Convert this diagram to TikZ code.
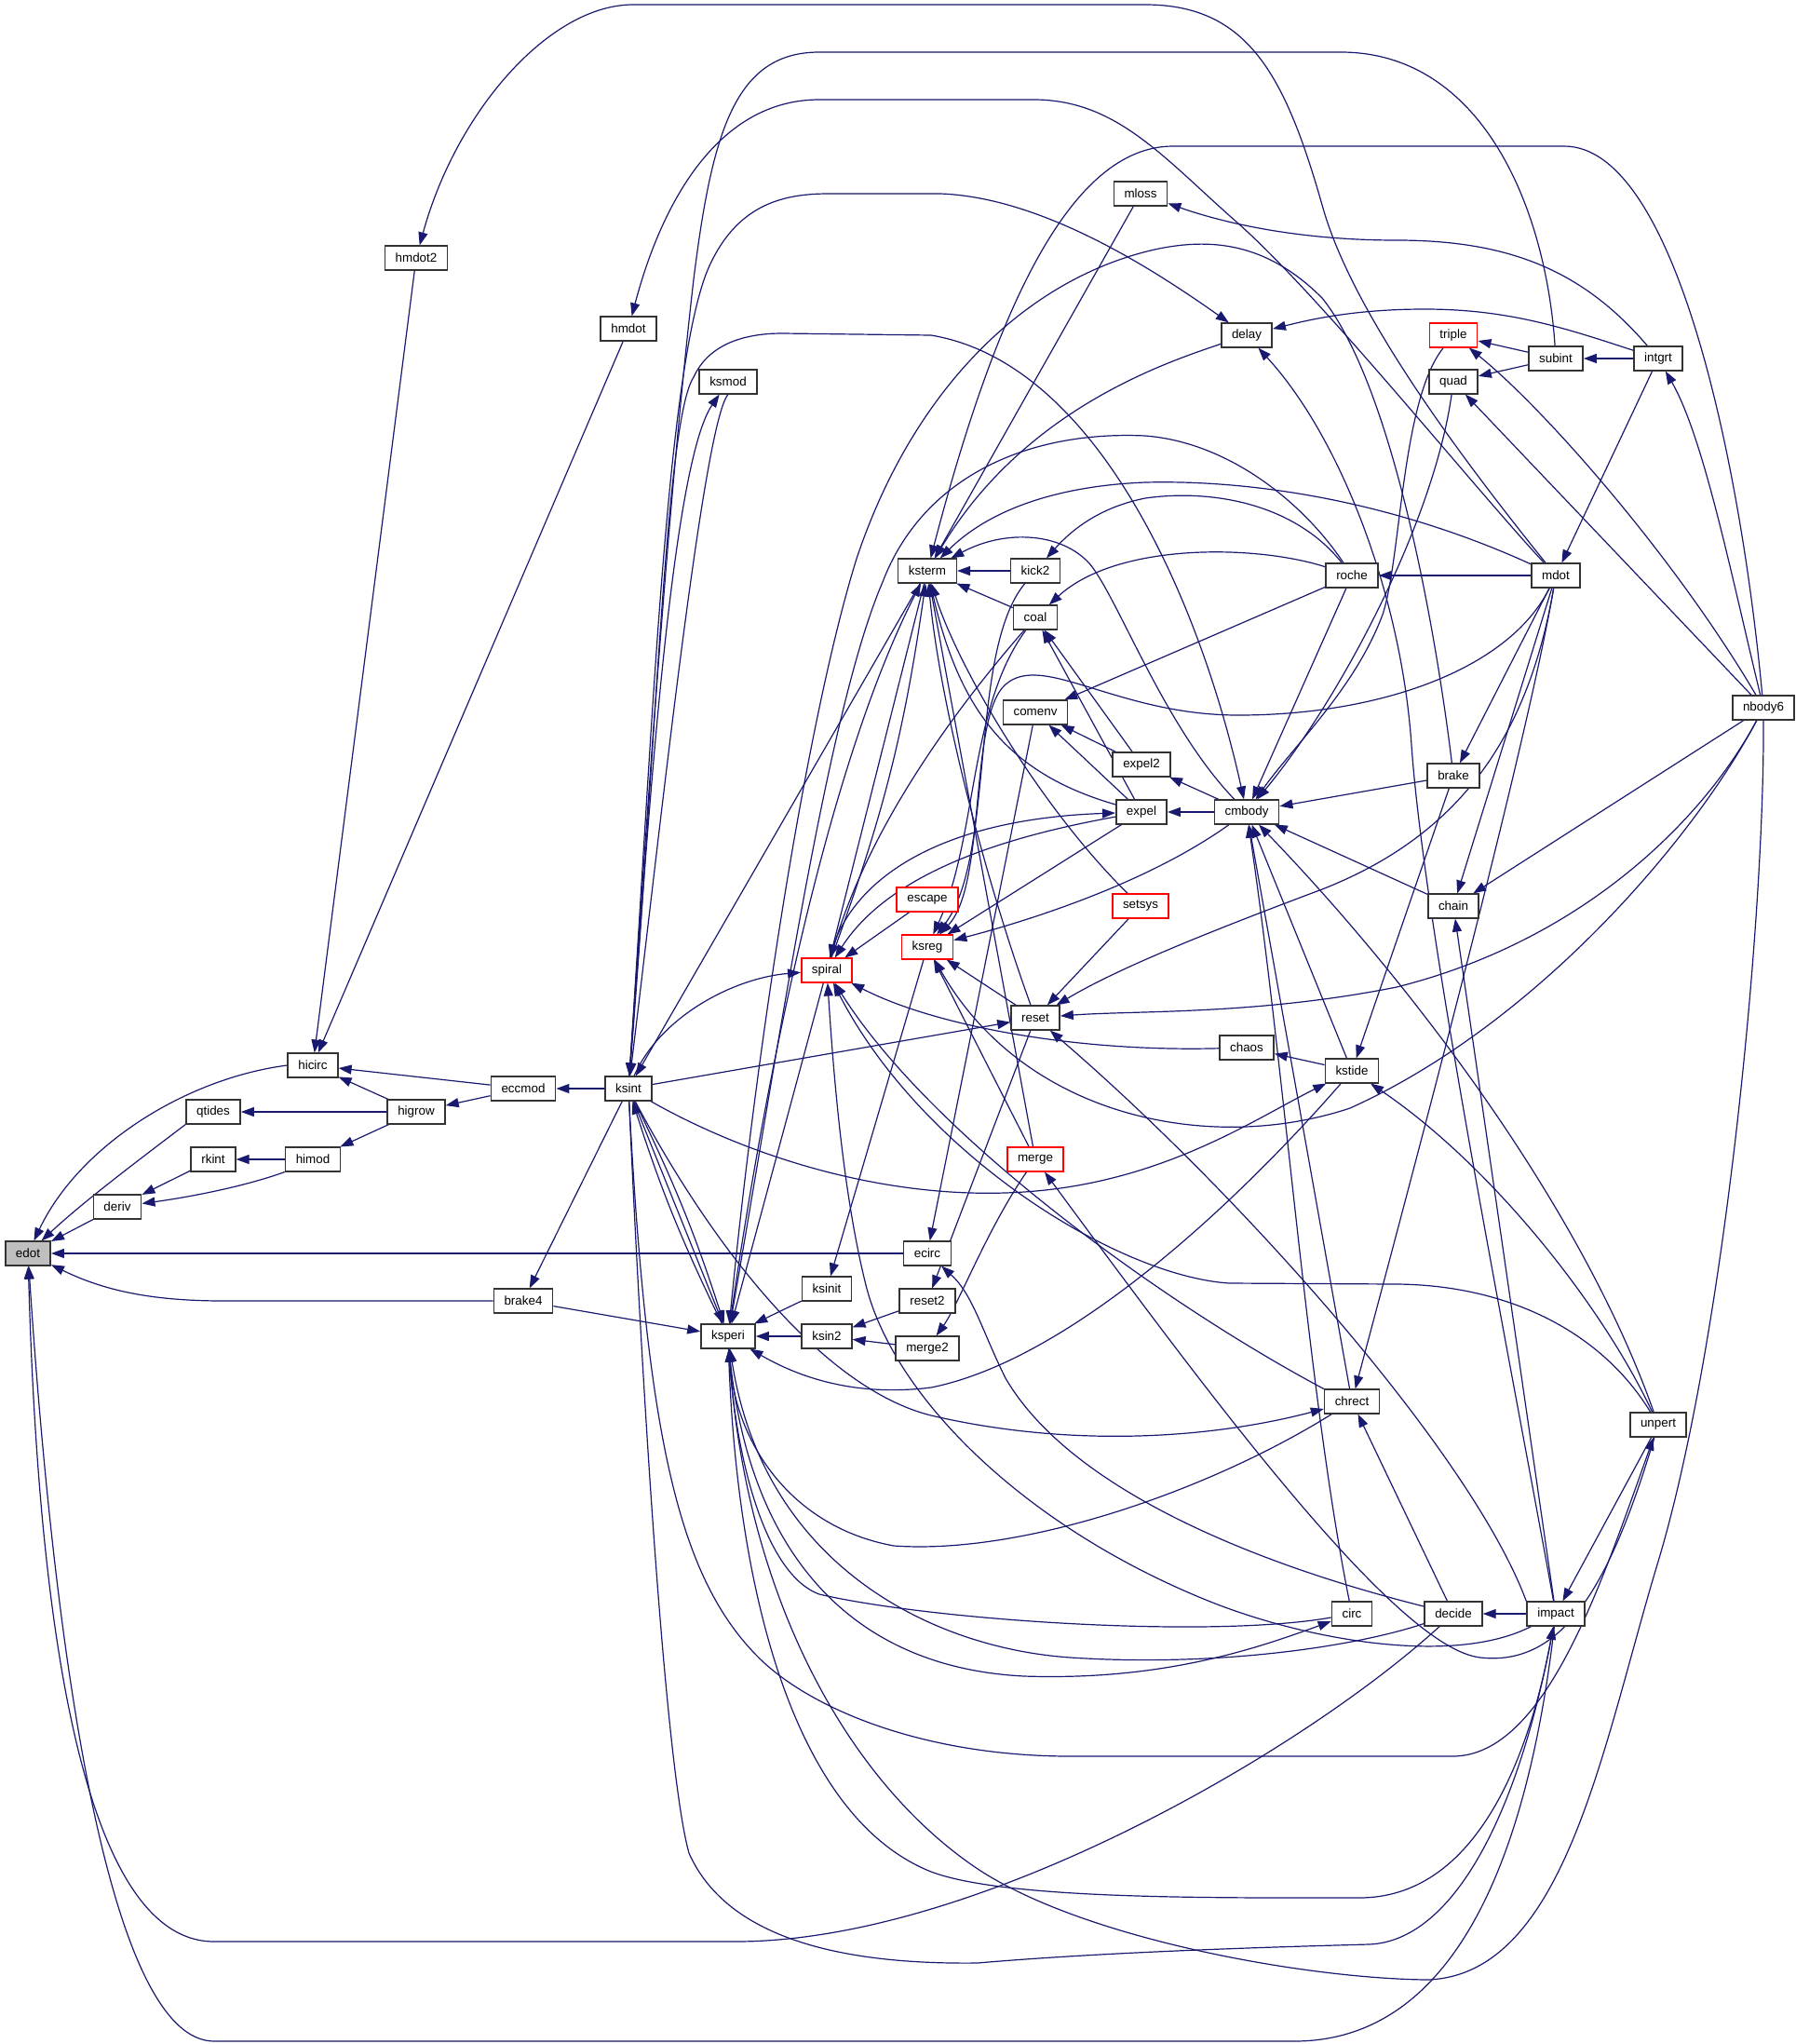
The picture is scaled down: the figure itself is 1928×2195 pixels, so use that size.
\documentclass[tikz,border=0pt]{standalone}
\usepackage{fontspec}
\setmainfont{Liberation Sans}
\usetikzlibrary{arrows.meta,backgrounds}
\definecolor{callBlue}{RGB}{25,25,112}
\definecolor{rootGray}{RGB}{191,191,191}
\begin{document}
\begin{tikzpicture}
[x=0.5pt,y=-0.5pt,
  callArrow/.style={-{Triangle[length=7pt,width=5pt]},draw=callBlue,line width=0.6pt},%
  funcNode/.style={shape=rectangle,draw=black!80,line width=0.75pt,fill=white,
    inner xsep=5.6pt,inner ysep=0pt,minimum height=12.8pt,font=\fontsize{6.7}{8}\selectfont},%
  rootNode/.style={funcNode,fill=rootGray},%
  truncNode/.style={funcNode,draw=red}]
\useasboundingbox (0,0) rectangle (1928,2195);
%% nodes or vertices
\foreach \nodename/\x/\y/\kind in {
  edot/30/1346/rootNode, deriv/126/1296/funcNode, rkint/229/1245/funcNode,
  himod/336/1245/funcNode, qtides/229/1194/funcNode, higrow/447/1194/funcNode,
  hicirc/336/1144/funcNode, eccmod/562/1169/funcNode, ksint/675/1169/funcNode,
  brake4/562/1397/funcNode, hmdot2/447/277/funcNode, hmdot/675/353/funcNode,
  ksmod/782/410/funcNode, ksperi/782/1435/funcNode, ksinit/888/1384/funcNode,
  ksin2/888/1435/funcNode, reset2/996/1397/funcNode, merge2/996/1448/funcNode,
  ecirc/996/1346/funcNode, merge/1112/1245/truncNode, reset/1112/1093/funcNode,
  ksreg/996/1017/truncNode, spiral/888/1042/truncNode, escape/996/966/truncNode,
  setsys/1225/973/truncNode, ksterm/996/613/funcNode, kick2/1112/613/funcNode,
  coal/1112/663/funcNode, comenv/1112/765/funcNode, expel2/1226/821/funcNode,
  expel/1226/872/funcNode, cmbody/1339/872/funcNode, mloss/1225/208/funcNode,
  delay/1339/360/funcNode, triple/1561/360/truncNode, quad/1561/410/funcNode,
  subint/1671/385/funcNode, intgrt/1781/385/funcNode, roche/1452/618/funcNode,
  mdot/1671/618/funcNode, brake/1561/833/funcNode, chain/1561/973/funcNode,
  chaos/1339/1125/funcNode, kstide/1452/1150/funcNode, nbody6/1894/760/funcNode,
  chrect/1452/1505/funcNode, unpert/1781/1530/funcNode, circ/1452/1733/funcNode,
  decide/1561/1733/funcNode, impact/1671/1733/funcNode}
{
  \node (\nodename) at (\x,\y) [\kind] {\nodename};
}
\begin{scope}[on background layer]
\fill[white] (0,0) rectangle (1928,2195);
%% edges or lines
\path
\foreach \startnode/\endnode in {
  deriv/edot, rkint/deriv, himod/rkint, higrow/qtides, higrow/hicirc,
  higrow/himod, eccmod/hicirc, eccmod/higrow, ksint/eccmod, ecirc/edot,
  ksint/brake4, brake4/ksperi, hmdot2/hicirc, hmdot/hicirc, ksinit/ksperi,
  ksin2/ksperi, reset2/ksin2, merge2/ksin2, kick2/ksterm, coal/ksterm,
  expel2/comenv, expel/comenv, expel2/coal, expel/coal, cmbody/expel,
  cmbody/expel2, brake/cmbody, chain/cmbody, kstide/cmbody, kstide/chaos,
  intgrt/subint, subint/triple, subint/quad, intgrt/mdot, mdot/roche,
  nbody6/quad, nbody6/chain, mdot/brake, mdot/chain, brake/kstide,
  impact/decide, decide/chrect, unpert/impact, impact/chain, mloss/ksterm,
  roche/cmbody, roche/comenv, chrect/cmbody, ksint/reset, ksint/ksperi,
  ksterm/ksint, spiral/ksperi, escape/spiral, expel/ksreg, reset/ksreg,
  merge/ksreg, merge/ksterm, setsys/reset, reset/reset2, ksreg/ksinit,
  comenv/ecirc, ksterm/spiral}
{
  (\startnode) edge[callArrow] (\endnode)
}
%% multiple directed edges
(ksint) edge[callArrow,bend left=4] (ksperi)
(ksperi) edge[callArrow,bend left=4] (ksint)
(spiral) edge[callArrow,bend right=6] (ksterm);
%% left cluster
\draw[callArrow] (hicirc.west) .. controls (200,1158) and (85,1230) .. (edot);
\draw[callArrow] (qtides.south west) .. controls (150,1245) and (90,1290) .. (edot);
\draw[callArrow] (himod.south west) .. controls (260,1275) and (200,1286) .. (deriv);
\draw[callArrow] (brake4.west) -- (240,1397) .. controls (160,1397) and (110,1385) .. (edot);
%% round the bottom
\draw[callArrow] (decide) .. controls (1400,1880) and (1050,2085) .. (790,2085) -- (230,2085)
  .. controls (80,2085) and (40,1700) .. (edot);
\draw[callArrow] (impact) .. controls (1640,2000) and (1560,2192) .. (1390,2192) -- (230,2192)
  .. controls (120,2192) and (60,1800) .. (edot);
%% round the top
\draw[callArrow] (mdot) .. controls (1560,480) and (1450,330) .. (1420,220)
  .. controls (1380,80) and (1340,5) .. (1230,5) -- (680,5) .. controls (590,5) and (490,120) .. (hmdot2);
\draw[callArrow] (mdot) .. controls (1580,520) and (1420,320) .. (1330,240)
  .. controls (1250,170) and (1200,107) .. (1110,107) -- (880,107) .. controls (770,107) and (710,220) .. (hmdot);
\draw[callArrow] (subint) .. controls (1660,220) and (1590,56) .. (1440,56) -- (880,56)
  .. controls (790,56) and (765,140) .. (745,300) .. controls (715,560) and (690,950) .. (ksint);
\draw[callArrow] (nbody6) .. controls (1870,500) and (1800,157) .. (1680,157) -- (1260,157)
  .. controls (1150,157) and (1070,330) .. (ksterm);
\draw[callArrow] (intgrt) .. controls (1700,290) and (1620,258) .. (1500,258)
  .. controls (1390,258) and (1310,238) .. (mloss);
\draw[callArrow] (intgrt) .. controls (1680,352) and (1620,332) .. (1530,332)
  .. controls (1450,332) and (1400,345) .. (delay);
\draw[callArrow] (nbody6) .. controls (1860,620) and (1830,470) .. (intgrt);
\draw[callArrow] (nbody6) .. controls (1800,600) and (1660,440) .. (triple);
\draw[callArrow] (ksint) .. controls (700,800) and (715,400) .. (760,290)
  .. controls (790,220) and (840,208) .. (890,208) -- (1010,208) .. controls (1120,212) and (1240,290) .. (delay);
\draw[callArrow] (ksint) .. controls (705,800) and (715,450) .. (745,405)
  .. controls (760,372) and (795,358) .. (840,358) -- (1000,360) .. controls (1180,390) and (1290,650) .. (cmbody);
\draw[callArrow] (ksint) .. controls (695,900) and (720,500) .. (ksmod);
\draw[callArrow] (ksmod.south) .. controls (755,455) and (708,900) .. (ksint);
\draw[callArrow] (impact) .. controls (1620,1450) and (1530,1000) .. (1516,800)
  .. controls (1505,640) and (1440,470) .. (delay);
\draw[callArrow] (brake) .. controls (1545,700) and (1500,420) .. (1420,320)
  .. controls (1360,260) and (1300,255) .. (1240,268) .. controls (1100,300) and (980,420) .. (920,600)
  .. controls (870,760) and (815,1100) .. (ksperi);
\draw[callArrow] (roche) .. controls (1400,540) and (1320,475) .. (1230,468)
  .. controls (1100,462) and (990,515) .. (948,625) .. controls (890,760) and (840,1100) .. (ksperi);
%% around ksterm
\draw[callArrow] (roche) .. controls (1390,540) and (1300,525) .. (1230,535)
  .. controls (1180,545) and (1150,570) .. (kick2);
\draw[callArrow] (roche) .. controls (1350,585) and (1200,582) .. (coal);
\draw[callArrow] (mdot) .. controls (1500,540) and (1350,515) .. (1230,518)
  .. controls (1130,522) and (1060,550) .. (ksterm);
\draw[callArrow] (delay) .. controls (1250,390) and (1100,440) .. (ksterm);
\draw[callArrow] (cmbody) .. controls (1250,780) and (1200,640) .. (1170,605)
  .. controls (1140,572) and (1080,568) .. (ksterm);
\draw[callArrow] (triple) .. controls (1505,430) and (1505,600) .. (1485,660)
  .. controls (1455,740) and (1390,800) .. (cmbody);
\draw[callArrow] (quad) .. controls (1540,560) and (1440,750) .. (cmbody);
\draw[callArrow] (ksperi) .. controls (830,1100) and (900,800) .. (ksterm);
\draw[callArrow] (reset) .. controls (1060,950) and (1010,760) .. (ksterm);
\draw[callArrow] (setsys) .. controls (1120,870) and (1030,720) .. (ksterm);
\draw[callArrow] (expel) .. controls (1080,830) and (1030,760) .. (ksterm);
%% middle right
\draw[callArrow] (nbody6) .. controls (1830,880) and (1700,1010) .. (1500,1060)
  .. controls (1350,1090) and (1220,1085) .. (reset);
\draw[callArrow] (nbody6) .. controls (1820,900) and (1650,1100) .. (1450,1190)
  .. controls (1300,1240) and (1100,1200) .. (ksreg);
\draw[callArrow] (ksint) .. controls (800,1240) and (950,1290) .. (1100,1280)
  .. controls (1250,1270) and (1350,1200) .. (kstide);
\draw[callArrow] (unpert) .. controls (1720,1400) and (1600,1250) .. (kstide);
\draw[callArrow] (kstide) .. controls (1330,1290) and (1150,1460) .. (1000,1490)
  .. controls (920,1500) and (860,1480) .. (ksperi);
\draw[callArrow] (circ) .. controls (1405,1500) and (1380,1150) .. (cmbody);
\draw[callArrow] (unpert) .. controls (1700,1300) and (1520,1060) .. (cmbody);
\draw[callArrow] (mdot) .. controls (1640,800) and (1520,1250) .. (chrect);
\draw[callArrow] (mdot) .. controls (1640,800) and (1560,900) .. (1420,955)
  .. controls (1300,1000) and (1200,1040) .. (reset);
\draw[callArrow] (mdot) .. controls (1620,720) and (1480,768) .. (1330,768)
  .. controls (1200,768) and (1120,700) .. (1080,735) .. controls (1040,770) and (1060,950) .. (ksreg);
\draw[callArrow] (impact.north west) .. controls (1580,1560) and (1330,1280) .. (reset);
%% around spiral and ksreg
\draw[callArrow] (expel) .. controls (1100,895) and (960,930) .. (spiral);
\draw[callArrow] (spiral) .. controls (910,950) and (1000,880) .. (expel);
\draw[callArrow] (coal) .. controls (1010,780) and (930,900) .. (spiral);
\draw[callArrow] (chrect.north west) .. controls (1250,1400) and (1000,1220) .. (spiral);
\draw[callArrow] (unpert) .. controls (1720,1430) and (1620,1380) .. (1500,1379) -- (1320,1378)
  .. controls (1200,1370) and (990,1240) .. (spiral);
\draw[callArrow] (chaos) .. controls (1150,1130) and (1000,1100) .. (spiral);
\draw[callArrow] (impact) .. controls (1560,1790) and (1400,1760) .. (1300,1720)
  .. controls (1100,1640) and (960,1500) .. (930,1380) .. controls (905,1280) and (895,1150) .. (spiral);
\draw[callArrow] (ksint) .. controls (710,1090) and (790,1050) .. (spiral);
\draw[callArrow] (kick2) .. controls (1040,700) and (1070,920) .. (ksreg);
\draw[callArrow] (coal) .. controls (1040,760) and (1050,900) .. (ksreg);
\draw[callArrow] (cmbody) .. controls (1230,950) and (1100,990) .. (ksreg);
\draw[callArrow] (merge) .. controls (1060,1320) and (1030,1400) .. (merge2);
\draw[callArrow] (decide) .. controls (1350,1680) and (1150,1600) .. (1080,1480)
  .. controls (1055,1430) and (1045,1390) .. (ecirc);
\draw[callArrow] (unpert) .. controls (1730,1700) and (1680,1790) .. (1590,1780)
  .. controls (1500,1770) and (1300,1500) .. (merge);
%% lower fan of ksint and ksperi
\draw[callArrow] (chrect) .. controls (1300,1600) and (1100,1670) .. (960,1660)
  .. controls (850,1640) and (790,1550) .. (ksperi);
\draw[callArrow] (ksint) .. controls (760,1330) and (880,1490) .. (1000,1520)
  .. controls (1150,1555) and (1300,1545) .. (chrect);
\draw[callArrow] (circ) .. controls (1300,1760) and (1000,1740) .. (880,1712)
  .. controls (820,1690) and (790,1560) .. (ksperi);
\draw[callArrow] (decide) .. controls (1450,1770) and (1300,1790) .. (1150,1780)
  .. controls (1000,1770) and (820,1680) .. (ksperi);
\draw[callArrow] (ksperi) .. controls (800,1650) and (900,1790) .. (1100,1800)
  .. controls (1250,1805) and (1350,1770) .. (circ);
\draw[callArrow] (ksint) .. controls (695,1550) and (730,1700) .. (820,1785)
  .. controls (880,1840) and (1000,1886) .. (1150,1886) -- (1560,1886) .. controls (1660,1886) and (1720,1700) .. (unpert);
\draw[callArrow] (ksint) .. controls (690,1500) and (715,1900) .. (740,1990)
  .. controls (780,2080) and (900,2110) .. (1050,2108) .. controls (1200,2095) and (1400,2090) .. (1470,2088)
  .. controls (1560,2085) and (1630,1950) .. (impact);
\draw[callArrow] (ksperi) .. controls (790,1700) and (850,1950) .. (1000,2010)
  .. controls (1080,2040) and (1300,2038) .. (1460,2038) .. controls (1580,2038) and (1640,1900) .. (impact);
\draw[callArrow] (nbody6) .. controls (1895,1000) and (1850,1450) .. (1780,1680)
  .. controls (1720,1880) and (1680,2120) .. (1534,2126) .. controls (1400,2125) and (1150,2080) .. (1040,2000)
  .. controls (900,1900) and (800,1700) .. (ksperi);
\end{scope}
\end{tikzpicture}
\end{document}
